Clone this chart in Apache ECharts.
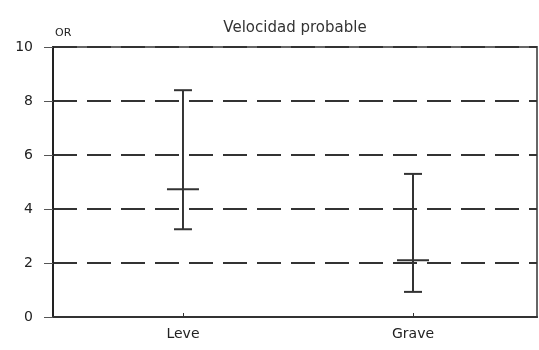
<!DOCTYPE html>
<html>
<head>
<meta charset="utf-8">
<script src="https://cdn.jsdelivr.net/npm/echarts@6/dist/echarts.min.js"></script>
<style>html,body{margin:0;padding:0;background:#fff}#c{width:539px;height:350px}</style>
</head>
<body>
<div id="c"></div>
<script>
const categories = ['Leve', 'Grave'];
const lows = [3.25, 0.93];
const highs = [8.4, 5.3];
const centers = [4.73, 2.1];
const yTicks = [0, 2, 4, 6, 8, 10];

const chart = echarts.init(document.getElementById('c'));
const idx = categories.map((c, i) => i);
const data = categories.map((c, i) => [i, lows[i], highs[i], centers[i]]);
chart.setOption({
  animation: false,
  textStyle: { fontFamily: 'DejaVu Sans, sans-serif' },
  title: {
    text: 'Velocidad probable', left: 290, top: 16, textAlign: 'center',
    textStyle: { fontSize: 15, fontWeight: 'normal', color: '#333', fontFamily: 'DejaVu Sans' }
  },
  grid: { left: 53, right: 2, top: 47, bottom: 33, show: true, borderColor: '#666', borderWidth: 2 },
  xAxis: {
    type: 'value', min: -0.565, max: 1.539,
    axisLine: { onZero: false, lineStyle: { color: '#333', width: 2 } },
    axisTick: { show: true, inside: true, length: 4, customValues: idx, lineStyle: { color: '#333' } },
    axisLabel: { color: '#222', fontSize: 14, margin: 10, customValues: idx,
      formatter: v => categories[Math.round(v)] },
    splitLine: { show: false }
  },
  yAxis: {
    type: 'value', min: 0, max: 10, interval: 2,
    name: 'OR', nameLocation: 'end', nameGap: 8,
    nameTextStyle: { color: '#222', fontSize: 11, align: 'left', padding: [0, 0, 0, 2] },
    axisLine: { show: true, onZero: false, lineStyle: { color: '#222', width: 2 } },
    axisTick: { show: true, length: 9, lineStyle: { color: '#555' } },
    axisLabel: { color: '#222', fontSize: 14, margin: 20,
      formatter: v => yTicks.includes(v) ? String(v) : '' },
    splitLine: { show: true, lineStyle: { type: [24, 10], color: '#333', width: 2 } }
  },
  series: [{
    type: 'custom',
    data: data,
    renderItem: function (params, api) {
      const x = api.value(0);
      const lo = api.coord([x, api.value(1)]);
      const hi = api.coord([x, api.value(2)]);
      const mid = api.coord([x, api.value(3)]);
      const st = { stroke: '#333', lineWidth: 2 };
      return {
        type: 'group',
        children: [
          { type: 'line', shape: { x1: lo[0], y1: lo[1], x2: hi[0], y2: hi[1] }, style: st },
          { type: 'line', shape: { x1: hi[0] - 9, y1: hi[1], x2: hi[0] + 9, y2: hi[1] }, style: st },
          { type: 'line', shape: { x1: lo[0] - 9, y1: lo[1], x2: lo[0] + 9, y2: lo[1] }, style: st },
          { type: 'line', shape: { x1: mid[0] - 16, y1: mid[1], x2: mid[0] + 16, y2: mid[1] }, style: st }
        ]
      };
    }
  }]
});
</script>
</body>
</html>
